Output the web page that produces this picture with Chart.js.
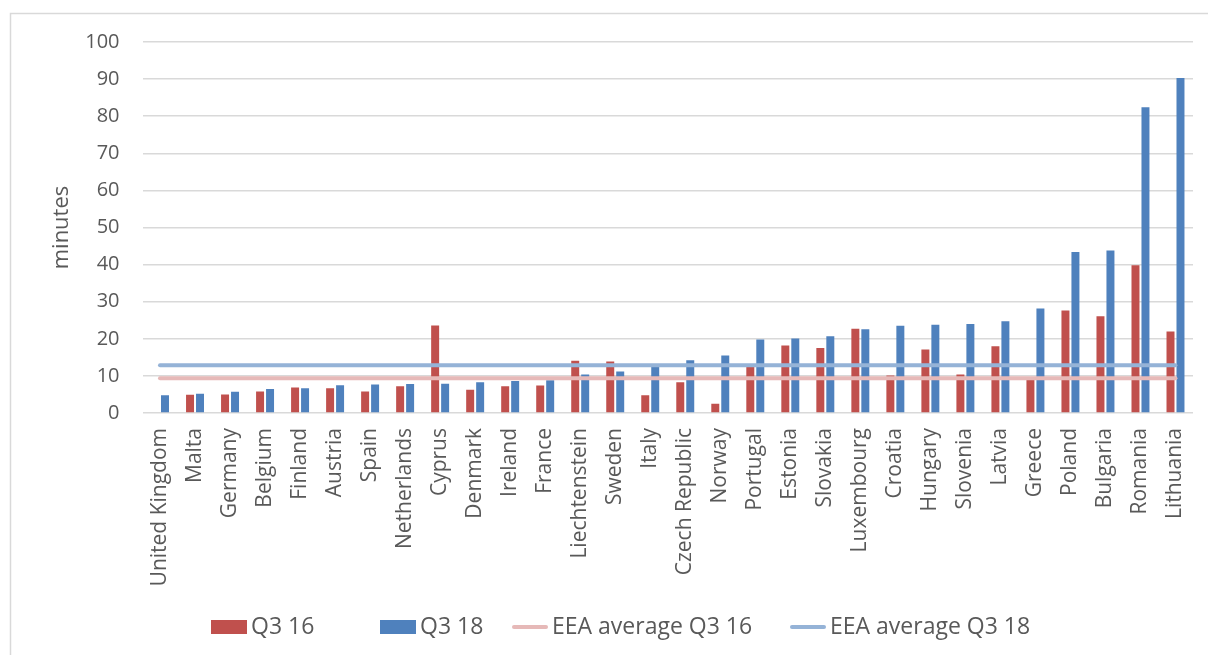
<!DOCTYPE html>
<html>
<head>
<meta charset="utf-8">
<script src="https://cdn.jsdelivr.net/npm/chart.js@4.4.1/dist/chart.umd.min.js"></script>
<style>
  html, body { margin: 0; padding: 0; background: #fff; }
  #chart { display: block; }
</style>
</head>
<body>
<canvas id="chart" width="1208" height="655"></canvas>
<script>
// Average waiting time per country (minutes)
const countries = [
  "United Kingdom", "Malta", "Germany", "Belgium", "Finland", "Austria",
  "Spain", "Netherlands", "Cyprus", "Denmark", "Ireland", "France",
  "Liechtenstein", "Sweden", "Italy", "Czech Republic", "Norway", "Portugal",
  "Estonia", "Slovakia", "Luxembourg", "Croatia", "Hungary", "Slovenia",
  "Latvia", "Greece", "Poland", "Bulgaria", "Romania", "Lithuania",
];

const q316 = [
  null, 4.9, 5.0, 5.8, 6.9, 6.7, 5.8, 7.2, 23.6, 6.3, 7.2, 7.4, 14.1, 13.9,
  4.8, 8.3, 2.5, 12.5, 18.2, 17.5, 22.7, 10.1, 17.1, 10.4, 18.0, 9.3, 27.6,
  26.1, 39.8, 22.0,
];

const q318 = [
  4.8, 5.2, 5.7, 6.5, 6.7, 7.5, 7.7, 7.8, 7.9, 8.3, 8.6, 8.8, 10.4, 11.2,
  12.8, 14.2, 15.5, 19.8, 20.1, 20.7, 22.6, 23.5, 23.8, 24.0, 24.7, 28.2,
  43.4, 43.8, 82.4, 90.3,
];

const eeaAvgQ316 = 9.4;
const eeaAvgQ318 = 12.9;

const yTicks = [0, 10, 20, 30, 40, 50, 60, 70, 80, 90, 100];

const FONT = "'Open Sans', 'DejaVu Sans', sans-serif";
const TEXT = "#595959";
const GRID = "#d9d9d9";

// white background and the thin frame round the chart
const framePlugin = {
  id: "frame",
  beforeDraw(chart) {
    const ctx = chart.ctx;
    ctx.save();
    ctx.fillStyle = "#fff";
    ctx.fillRect(0, 0, chart.width, chart.height);
    ctx.strokeStyle = GRID;
    ctx.lineWidth = 1.5;
    ctx.strokeRect(10.5, 13.5, chart.width + 20, chart.height + 20);
    ctx.restore();
  },
};

// legend row under the axis labels
const legendPlugin = {
  id: "bottomLegend",
  afterDraw(chart) {
    const ctx = chart.ctx;
    const y = 627;
    const starts = [211, 380, 512, 790];
    ctx.save();
    ctx.font = "23px " + FONT;
    ctx.textBaseline = "middle";
    chart.data.datasets.forEach((ds, i) => {
      const x = starts[i];
      if (ds.type === "line") {
        ctx.strokeStyle = ds.borderColor;
        ctx.lineWidth = 4;
        ctx.lineCap = "round";
        ctx.beginPath();
        ctx.moveTo(x + 2, y);
        ctx.lineTo(x + 34, y);
        ctx.stroke();
      } else {
        ctx.fillStyle = ds.backgroundColor;
        ctx.fillRect(x, y - 7, 36, 14);
      }
      ctx.fillStyle = TEXT;
      ctx.fillText(ds.label, x + 40, y);
    });
    ctx.restore();
  },
};

new Chart(document.getElementById("chart"), {
  data: {
    labels: countries,
    datasets: [
      {
        type: "bar",
        label: "Q3 16",
        data: q316,
        backgroundColor: "#C0504D",
        categoryPercentage: 0.57,
        barPercentage: 0.8,
        order: 2,
      },
      {
        type: "bar",
        label: "Q3 18",
        data: q318,
        backgroundColor: "#4F81BD",
        categoryPercentage: 0.57,
        barPercentage: 0.8,
        order: 2,
      },
      {
        type: "line",
        label: "EEA average Q3 16",
        data: countries.map(() => eeaAvgQ316),
        borderColor: "#E6B9B8",
        borderWidth: 4,
        pointRadius: 0,
        borderCapStyle: "round",
        order: 0,
      },
      {
        type: "line",
        label: "EEA average Q3 18",
        data: countries.map(() => eeaAvgQ318),
        borderColor: "#95B3D7",
        borderWidth: 4,
        pointRadius: 0,
        borderCapStyle: "round",
        order: 1,
      },
    ],
  },
  options: {
    responsive: false,
    devicePixelRatio: 1,
    animation: false,
    layout: { padding: { left: 10, top: 42, right: 15, bottom: 60 } },
    plugins: {
      legend: { display: false },
      tooltip: { enabled: false },
    },
    scales: {
      x: {
        grid: { display: false, drawTicks: false },
        border: { display: false },
        ticks: {
          autoSkip: false,
          maxRotation: 90,
          minRotation: 90,
          padding: 15,
          color: TEXT,
          font: { family: FONT, size: 21 },
        },
        afterFit(scale) {
          scale.height = 182;
          scale.paddingLeft = 0;
          scale.paddingRight = 0;
        },
      },
      y: {
        min: 0,
        max: 100,
        afterBuildTicks(scale) {
          scale.ticks = yTicks.map((v) => ({ value: v }));
        },
        grid: { color: GRID, lineWidth: 1.5, drawTicks: false },
        border: { display: false },
        ticks: {
          padding: 23,
          color: TEXT,
          font: { family: FONT, size: 20 },
        },
        title: {
          display: true,
          text: "minutes",
          color: TEXT,
          font: { family: FONT, size: 22 },
          padding: { top: 39, bottom: 0 },
        },
        afterFit(scale) {
          scale.width = 132.5;
        },
      },
    },
  },
  plugins: [framePlugin, legendPlugin],
});
</script>
</body>
</html>
